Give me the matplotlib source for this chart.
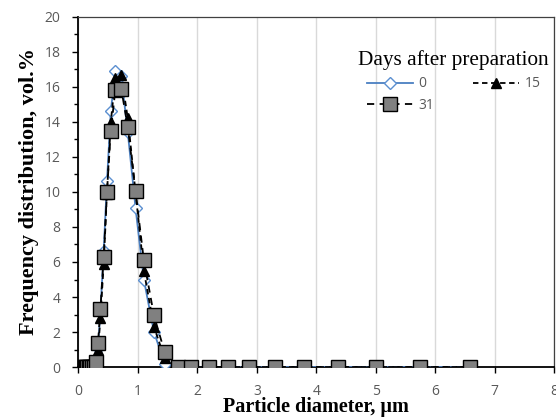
import matplotlib
matplotlib.use("Agg")
import matplotlib.pyplot as plt
from matplotlib.ticker import MultipleLocator

# particle diameter, um
diameter = [0.09, 0.11, 0.13, 0.15, 0.17, 0.20, 0.23, 0.26, 0.29, 0.33, 0.37,
            0.425, 0.48, 0.545, 0.62, 0.72, 0.83, 0.96, 1.10, 1.27, 1.45,
            1.67, 1.90, 2.19, 2.51, 2.87, 3.31, 3.79, 4.37, 5.01, 5.75, 6.59]

# frequency distribution, vol.% for each storage time
day0 = [0, 0, 0, 0, 0, 0, 0, 0, 0.1, 1.1, 3.2,
        6.6, 10.6, 14.6, 16.9, 16.6, 13.4, 9.1, 5.0, 2.0, 0.2,
        0, 0, 0, 0, 0, 0, 0, 0, 0, 0, 0]
day15 = [0, 0, 0, 0, 0, 0, 0, 0, 0.1, 0.95, 2.8,
         5.9, 9.9, 14.0, 16.5, 16.7, 14.2, 10.0, 5.5, 2.3, 0.5,
         0, 0, 0, 0, 0, 0, 0, 0, 0, 0, 0]
day31 = [0, 0, 0, 0, 0, 0, 0, 0, 0.3, 1.4, 3.3,
         6.3, 10.0, 13.5, 15.8, 15.9, 13.7, 10.05, 6.1, 2.95, 0.85,
         0, 0, 0, 0, 0, 0, 0, 0, 0, 0, 0]

tick_font = "Open Sans"
tick_color = "#595959"

fig = plt.figure(figsize=(5.56, 4.2), dpi=100)
ax = fig.add_axes([0.141, 0.126, 0.856, 0.834])

l0, = ax.plot(diameter, day0, color="#4a7fc1", lw=1.3, marker="D", ms=6.5,
              mfc="white", mec="#5b8fd0", mew=1.0, label="0", zorder=3)
l15, = ax.plot(diameter, day15, color="black", lw=1.3, ls=(0, (3, 2)),
               marker="^", ms=7, mfc="black", mec="black", label="15",
               zorder=4)
l31, = ax.plot(diameter, day31, color="black", lw=1.3, ls=(0, (4, 3)),
               marker="s", ms=9.5, mfc="#808080", mec="black", mew=1.0,
               label="31", zorder=5)

ax.set_xlim(0, 8)
ax.set_ylim(0, 20)
ax.xaxis.set_major_locator(MultipleLocator(1))
ax.yaxis.set_major_locator(MultipleLocator(2))
ax.yaxis.set_minor_locator(MultipleLocator(1))
ax.grid(axis="x", color="#d9d9d9", lw=1.0)
ax.set_axisbelow(True)

ax.tick_params(axis="both", which="major", direction="out", length=4,
               width=1, labelsize=10, labelcolor=tick_color, color="black")
ax.tick_params(axis="y", which="major", pad=9)
ax.tick_params(axis="x", which="major", pad=8)
ax.tick_params(axis="y", which="minor", direction="out", length=3, width=1)
for lab in ax.get_xticklabels() + ax.get_yticklabels():
    lab.set_family(tick_font)

for side in ["top", "right"]:
    ax.spines[side].set_color("#404040")
    ax.spines[side].set_linewidth(0.9)
ax.spines["left"].set_linewidth(1.3)
ax.spines["bottom"].set_linewidth(1.3)

ax.set_xlabel("Particle diameter, \u00b5m", family="Liberation Serif",
              fontweight="bold", fontsize=14.5, labelpad=-1)
ax.set_ylabel("Frequency distribution, vol.%", family="Liberation Serif",
              fontweight="bold", fontsize=16, labelpad=4)

# order so that the two-column legend reads 0, 15 / 31
leg = ax.legend([l0, l31, l15], ["0", "31", "15"], ncol=2, loc="upper right",
                bbox_to_anchor=(1.015, 0.94), frameon=False,
                title="Days after preparation",
                title_fontproperties={"family": "Liberation Serif",
                                      "size": 15.3},
                prop={"family": tick_font, "size": 10}, handlelength=3.3,
                columnspacing=2.8, labelspacing=0.45, handletextpad=0.4)
for t in leg.get_texts():
    t.set_color(tick_color)

fig.savefig("out.png", dpi=100)
